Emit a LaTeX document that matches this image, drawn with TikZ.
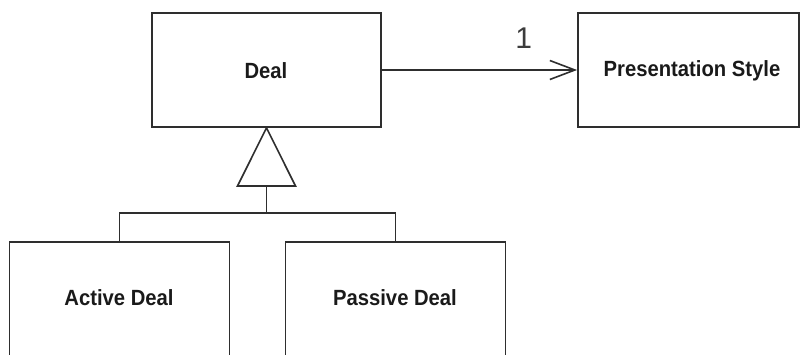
\documentclass[tikz,border=0pt]{standalone}
\usepackage{fontspec}
\setmainfont{Liberation Sans}
\usetikzlibrary{arrows.meta}
\definecolor{lineC}{HTML}{2E2E2E}
\definecolor{textC}{HTML}{1A1A1A}
\newcommand{\narrowtxt}[1]{\scalebox{0.92}[1]{#1}}
\begin{document}
\begin{tikzpicture}[x=1pt,y=-1pt]
\tikzset{
  cls/.style={draw=lineC, line width=1.8pt, rectangle, inner sep=0pt, fill=none},
  lbl/.style={font=\bfseries\fontsize{22}{26}\selectfont, text=textC, inner sep=0pt},
  conn/.style={draw=lineC, line width=1.6pt},
  mult/.style={font=\fontsize{30}{34}\selectfont, text=textC!85, inner sep=0pt}
}
\useasboundingbox (0,0) rectangle (801,354);
\clip (0,0) rectangle (801,354);
% classes
\node[cls, minimum width=229pt, minimum height=114pt] (deal) at (266.5,70) {};
\node[lbl] (dealT) at (266,71) {\narrowtxt{Deal}};
\node[cls, minimum width=221pt, minimum height=114pt] (ps) at (688.5,70) {};
\node[lbl] (psT) at (692,71) {\narrowtxt{Presentation Style}};
\node[cls, minimum width=220pt, minimum height=178pt] (act) at (119.5,331) {};
\node[lbl] (actT) at (119,298) {\narrowtxt{Active Deal}};
\node[cls, minimum width=220pt, minimum height=178pt] (pas) at (395.5,331) {};
\node[lbl] (pasT) at (395,298) {\narrowtxt{Passive Deal}};
% association
\draw[conn, -{Straight Barb[length=25pt,width=19pt,line width=1.6pt]}] (deal.east) -- (ps.west)
  node[mult, pos=0.726, anchor=south, yshift=21pt] (one) {1};
% generalization
\coordinate (tb) at (266.5,186);
\coordinate (j) at (266.5,213);
\draw[conn, line join=miter] (deal.south) -- ([xshift=29pt]tb) -- ([xshift=-29pt]tb) -- cycle;
\draw[conn] (tb) -- (j);
\draw[conn] (act.north) |- (j) -| (pas.north);
\end{tikzpicture}
\end{document}
